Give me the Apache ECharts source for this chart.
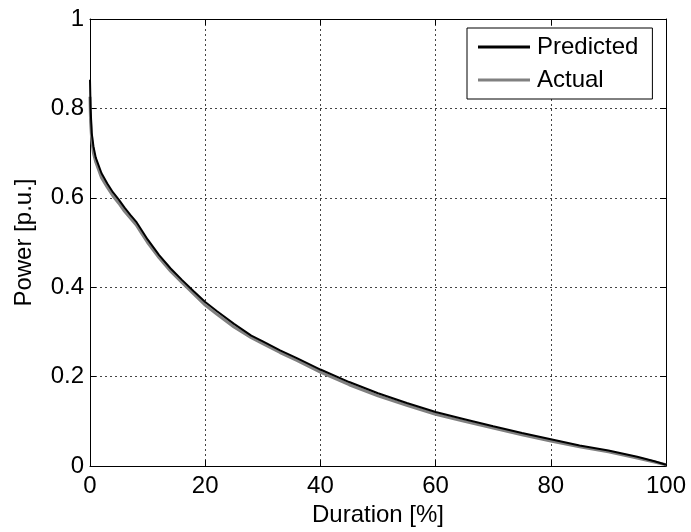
<!DOCTYPE html>
<html>
<head>
<meta charset="utf-8">
<script src="https://cdn.jsdelivr.net/npm/echarts@6/dist/echarts.min.js"></script>
<style>
  html, body { margin: 0; padding: 0; background: #fff; }
  #chart { width: 691px; height: 532px; }
</style>
</head>
<body>
<div id="chart"></div>
<script>
// Duration axis positions [%]
const duration = [0, 0.1, 0.3, 0.6, 1, 2, 3, 4, 5, 6, 7, 8, 9, 10, 12, 14, 16, 18, 20, 22, 25, 28, 30, 33, 36, 40, 45, 50, 55, 60, 65, 70, 75, 80, 85, 90, 95, 98, 100];
// Power duration curves [p.u.]
const predicted = [0.864, 0.80, 0.745, 0.715, 0.69, 0.655, 0.632, 0.612, 0.596, 0.578, 0.562, 0.547, 0.527, 0.507, 0.472, 0.442, 0.416, 0.391, 0.367, 0.347, 0.318, 0.292, 0.279, 0.259, 0.241, 0.216, 0.188, 0.163, 0.141, 0.121, 0.105, 0.089, 0.074, 0.060, 0.046, 0.035, 0.021, 0.011, 0.003];
const actual = [0.826, 0.77, 0.73, 0.70, 0.68, 0.645, 0.624, 0.604, 0.588, 0.570, 0.555, 0.540, 0.520, 0.500, 0.466, 0.436, 0.410, 0.385, 0.360, 0.340, 0.311, 0.287, 0.274, 0.254, 0.236, 0.210, 0.182, 0.157, 0.136, 0.116, 0.100, 0.085, 0.070, 0.056, 0.043, 0.032, 0.018, 0.009, 0.003];
const xTicks = { min: 0, max: 100, interval: 20 };
const yTicks = { min: 0, max: 1, interval: 0.2 };

const font = 'Liberation Sans, Arial, Helvetica, sans-serif';
const gridLine = { show: true, lineStyle: { color: '#444', type: [2, 3], width: 1 } };
const axisLine = { show: true, onZero: false, lineStyle: { color: '#000', width: 1 } };
const tick = { show: true, inside: true, length: 6, lineStyle: { color: '#000' } };

const chart = echarts.init(document.getElementById('chart'));
chart.setOption({
  animation: false,
  backgroundColor: '#fff',
  grid: { left: 90, right: 25, top: 19, bottom: 64, containLabel: false },
  legend: {
    orient: 'vertical',
    left: 467, top: 28,
    backgroundColor: '#fff',
    borderColor: '#000', borderWidth: 1,
    padding: [7, 14, 7, 11],
    itemGap: 9,
    itemWidth: 52, itemHeight: 3,
    icon: 'rect',
    textStyle: { fontFamily: font, fontSize: 24, color: '#000', padding: [0, 0, 0, 2] },
    data: ['Predicted', 'Actual']
  },
  xAxis: [
    {
      type: 'value', min: xTicks.min, max: xTicks.max, interval: xTicks.interval,
      name: 'Duration [%]', nameLocation: 'middle', nameGap: 36,
      nameTextStyle: { fontFamily: font, fontSize: 24, color: '#000' },
      axisLine: axisLine, axisTick: tick, splitLine: gridLine,
      axisLabel: { fontFamily: font, fontSize: 24, color: '#000', margin: 8 }
    },
    {
      type: 'value', position: 'top', min: xTicks.min, max: xTicks.max, interval: xTicks.interval,
      axisLine: axisLine, axisTick: tick, splitLine: { show: false }, axisLabel: { show: false }
    }
  ],
  yAxis: [
    {
      type: 'value', min: yTicks.min, max: yTicks.max, interval: yTicks.interval,
      name: 'Power [p.u.]', nameLocation: 'middle', nameGap: 54,
      nameTextStyle: { fontFamily: font, fontSize: 24, color: '#000' },
      axisLine: axisLine, axisTick: tick, splitLine: gridLine,
      axisLabel: { fontFamily: font, fontSize: 24, color: '#000', margin: 6 }
    },
    {
      type: 'value', position: 'right', min: yTicks.min, max: yTicks.max, interval: yTicks.interval,
      axisLine: axisLine, axisTick: tick, splitLine: { show: false }, axisLabel: { show: false }
    }
  ],
  series: [
    {
      name: 'Actual', type: 'line', z: 2, showSymbol: false, symbol: 'none',
      color: '#808080', lineStyle: { color: '#808080', width: 3 },
      data: duration.map((d, i) => [d, actual[i]])
    },
    {
      name: 'Predicted', type: 'line', z: 3, showSymbol: false, symbol: 'none',
      color: '#000', lineStyle: { color: '#000', width: 2 },
      data: duration.map((d, i) => [d, predicted[i]])
    }
  ]
});
</script>
</body>
</html>
